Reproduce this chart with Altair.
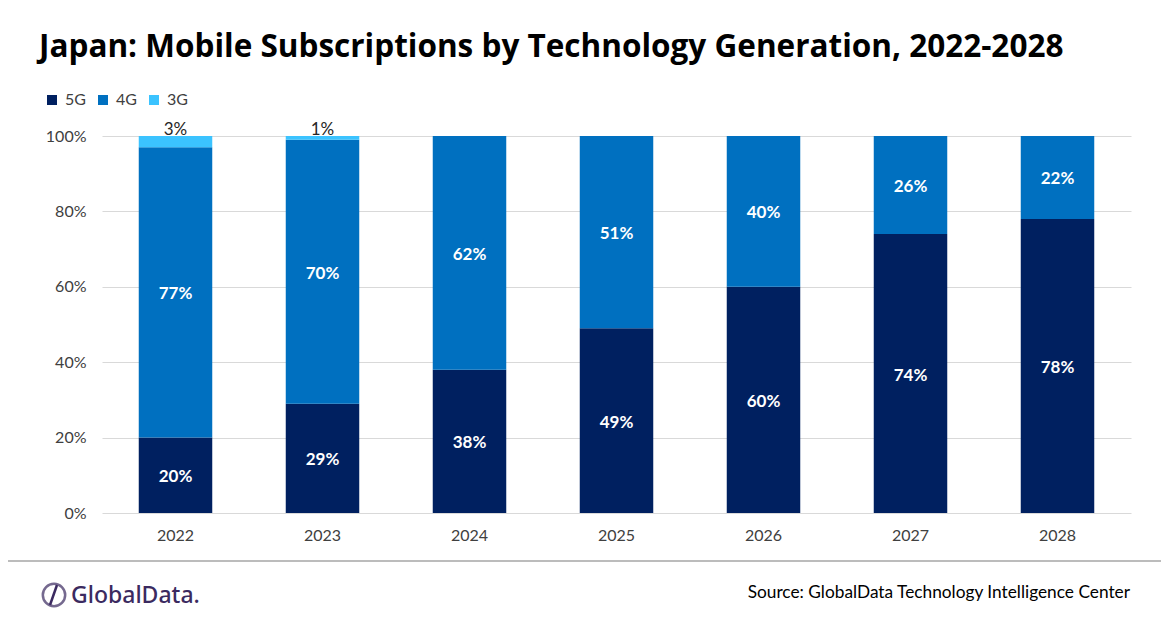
import pandas as pd
import altair as alt

# values (share of subscriptions, %)
years = ["2022", "2023", "2024", "2025", "2026", "2027", "2028"]
share_5g = [20, 29, 38, 49, 60, 74, 78]
share_4g = [77, 70, 62, 51, 40, 26, 22]
share_3g = [3, 1, 0, 0, 0, 0, 0]

generations = ["5G", "4G", "3G"]
gen_colors = ["#002060", "#0070C0", "#3BC3FF"]

title_text = "Japan: Mobile Subscriptions by Technology Generation, 2022-2028"
source_text = "Source: GlobalData Technology Intelligence Center"
logo_text = "GlobalData."

rows = []
for i, yr in enumerate(years):
    for rank, (g, vals) in enumerate(zip(generations, [share_5g, share_4g, share_3g])):
        rows.append({"year": yr, "gen": g, "rank": rank, "value": vals[i]})
df = pd.DataFrame(rows)

FONT = "Lato"

base = alt.Chart(df).transform_stack(
    stack="value", groupby=["year"], as_=["v0", "v1"],
    sort=[alt.SortField("rank", order="ascending")]
).transform_calculate(mid="(datum.v0 + datum.v1) / 2")

x_enc = alt.X("year:N", title=None,
              scale=alt.Scale(paddingInner=0.5, paddingOuter=0.25),
              axis=alt.Axis(labelAngle=0, labelFontSize=16, labelColor="#404040",
                            labelFont=FONT, ticks=False, domain=False, labelPadding=14))

bars = base.mark_bar().encode(
    x=x_enc,
    y=alt.Y("v0:Q", title=None, scale=alt.Scale(domain=[0, 100]),
            axis=alt.Axis(values=[0, 20, 40, 60, 80, 100], labelExpr="datum.value + '%'",
                          labelFontSize=16, labelColor="#404040", labelFont=FONT,
                          ticks=False, domain=False, labelPadding=16,
                          grid=True, gridColor="#D9D9D9")),
    y2="v1:Q",
    color=alt.Color("gen:N", title=None,
                    scale=alt.Scale(domain=generations, range=gen_colors),
                    legend=alt.Legend(orient="none", legendX=-58, legendY=-44,
                                      direction="horizontal", symbolType="square",
                                      symbolSize=100, symbolStrokeWidth=0,
                                      labelFontSize=16, labelFont=FONT, labelColor="#404040",
                                      labelOffset=5, columnPadding=9)),
)

inner_labels = base.transform_filter("datum.gen != '3G'").mark_text(
    color="white", fontWeight="bold", fontSize=17, font=FONT, dy=2
).encode(
    x=alt.X("year:N"),
    y=alt.Y("mid:Q"),
    text=alt.Text("label:N"),
).transform_calculate(label="datum.value + '%'")

top_labels = base.transform_filter("datum.gen == '3G' && datum.value > 0").mark_text(
    color="#262626", fontSize=17, font=FONT, baseline="alphabetic", dy=-1
).encode(
    x=alt.X("year:N"),
    y=alt.Y("v1:Q"),
    text=alt.Text("label:N"),
).transform_calculate(label="datum.value + '%'")

one = pd.DataFrame({"k": [0]})

title = alt.Chart(one).mark_text(
    text=title_text, align="left", baseline="middle", fontSize=31.5,
    fontWeight="bold", font="Open Sans", color="#000000"
).encode(x=alt.value(-63), y=alt.value(-88))

separator = alt.Chart(one).mark_rule(color="#A6A6A6", strokeWidth=1.5).encode(
    x=alt.value(-102), x2=alt.value(1070), y=alt.value(425)
)

source = alt.Chart(one).mark_text(
    text=source_text, align="right", baseline="middle", fontSize=17.3,
    font=FONT, color="#000000"
).encode(x=alt.value(1028), y=alt.value(457))

logo = alt.Chart(one).mark_text(
    text=logo_text, align="left", baseline="middle", fontSize=23,
    font="Noto Sans", fontWeight=500, color="#3B2A60"
).encode(x=alt.value(-31), y=alt.value(460))

logo_ring = alt.Chart(one).mark_point(
    shape="circle", filled=False, stroke="#3B2A60", strokeWidth=2.5, size=500
).encode(x=alt.value(-48), y=alt.value(459))

logo_slash = alt.Chart(one).mark_rule(color="#3B2A60", strokeWidth=2.5).encode(
    x=alt.value(-45), x2=alt.value(-52), y=alt.value(449), y2=alt.value(469)
)

chart = alt.layer(
    bars, inner_labels, top_labels, title, separator, source, logo, logo_ring, logo_slash
).properties(
    width=1029, height=377,
    autosize=alt.AutoSizeParams(type="none"),
    padding={"left": 94, "top": 128, "right": 30, "bottom": 100},
).configure_view(stroke=None)

chart.save("out.html", embed_options={"renderer": "svg", "actions": False})
